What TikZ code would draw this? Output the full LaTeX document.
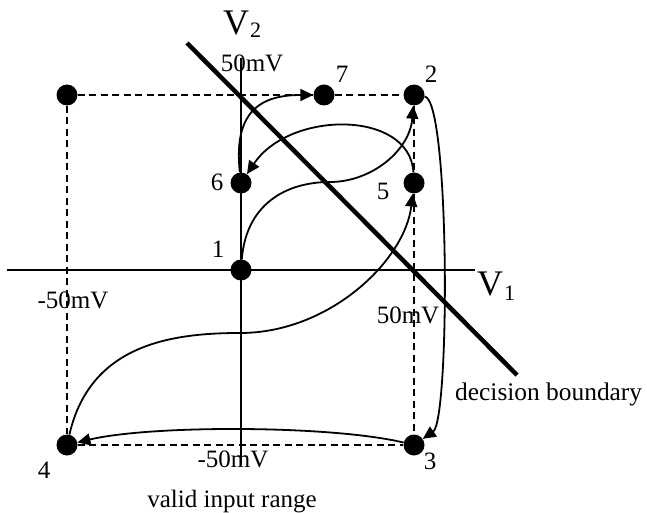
\documentclass[tikz,border=0pt]{standalone}
\usepackage{fontspec}
\setmainfont{Liberation Serif}
\usetikzlibrary{arrows.meta}
\begin{document}
\begin{tikzpicture}[x=1pt,y=-1pt,
  dot/.style={circle,fill=black,inner sep=0pt,minimum size=21pt},
  lbl/.style={font=\fontsize{25}{30}\selectfont,inner sep=0pt},
  axis/.style={line width=1.9pt},
  rng/.style={line width=1.8pt,dash pattern=on 7pt off 4.5pt},
  flow/.style={line width=1.8pt,-{Triangle[length=13pt,width=12pt]}},
  bound/.style={line width=4.5pt}]
\useasboundingbox (0,0) rectangle (647,513);
% state points
\node[dot] (n1) at (241,270) {};
\node[dot] (n2) at (414,95) {};
\node[dot] (n3) at (414,445) {};
\node[dot] (n4) at (67,445) {};
\node[dot] (n5) at (414,183) {};
\node[dot] (n6) at (241,183) {};
\node[dot] (n7) at (324,95) {};
\node[dot] (n8) at (67,95) {};
% axes
\coordinate (axL) at (7,270);
\coordinate (axR) at (475,270);
\coordinate (axT) at (241,58);
\coordinate (axB) at (241,465);
\draw[axis] (axL) -- (axR);
\draw[axis] (axT) -- (axB);
% valid input range
\draw[rng] (n8) -- (n7);
\draw[rng] (n7) -- (n2);
\draw[rng] (n8) -- (n4);
\draw[rng] (n4) -- (n3);
\draw[rng] (n2) -- (n5);
\draw[rng] (n5) -- (n3);
% decision boundary
\coordinate (db1) at (187,43);
\coordinate (db2) at (517,375);
\draw[bound] (db1) -- (db2);
% trajectory
\draw[flow] (n1) .. controls (246,205) and (285,182) .. (330,182) .. controls (372,182) and (410,150) .. (n2);
\draw[flow] (n2) .. controls (450,100) and (450,420) .. (n3);
\draw[flow] (n3) .. controls (330,425) and (150,425) .. (n4);
\draw[flow] (n4) .. controls (90,345) and (170,333) .. (240,333) .. controls (330,333) and (405,260) .. (n5);
\draw[flow] (n5) .. controls (410,110) and (290,110) .. (n6);
\draw[flow] (n6) .. controls (233,110) and (262,95) .. (n7);
% point labels
\node[lbl] (l1) at (218,249) {1};
\node[lbl] (l2) at (431,74) {2};
\node[lbl] (l3) at (430,461) {3};
\node[lbl] (l4) at (44,470) {4};
\node[lbl] (l5) at (383,191) {5};
\node[lbl] (l6) at (217,182) {6};
\node[lbl] (l7) at (342,74) {7};
% axis labels
\node[lbl,anchor=base] (t50) at (252,72) {50mV};
\node[lbl,anchor=base] (tm50l) at (73,308) {-50mV};
\node[lbl,anchor=base] (t50r) at (408,323) {50mV};
\node[lbl,anchor=base] (tm50b) at (233,467) {-50mV};
\node[inner sep=0pt,anchor=base west] (v2) at (223,35) {\fontsize{36}{40}\selectfont V\kern1pt\raisebox{-3pt}{\fontsize{22}{26}\selectfont 2}};
\node[inner sep=0pt,anchor=base west] (v1) at (477,295) {\fontsize{36}{40}\selectfont V\kern1pt\raisebox{-5pt}{\fontsize{22}{26}\selectfont 1}};
\node[inner sep=0pt,anchor=base west,font=\fontsize{25.4}{30}\selectfont] (tdb) at (455,400) {decision boundary};
\node[lbl,anchor=base] (tvir) at (232,507) {valid input range};
\end{tikzpicture}
\end{document}
